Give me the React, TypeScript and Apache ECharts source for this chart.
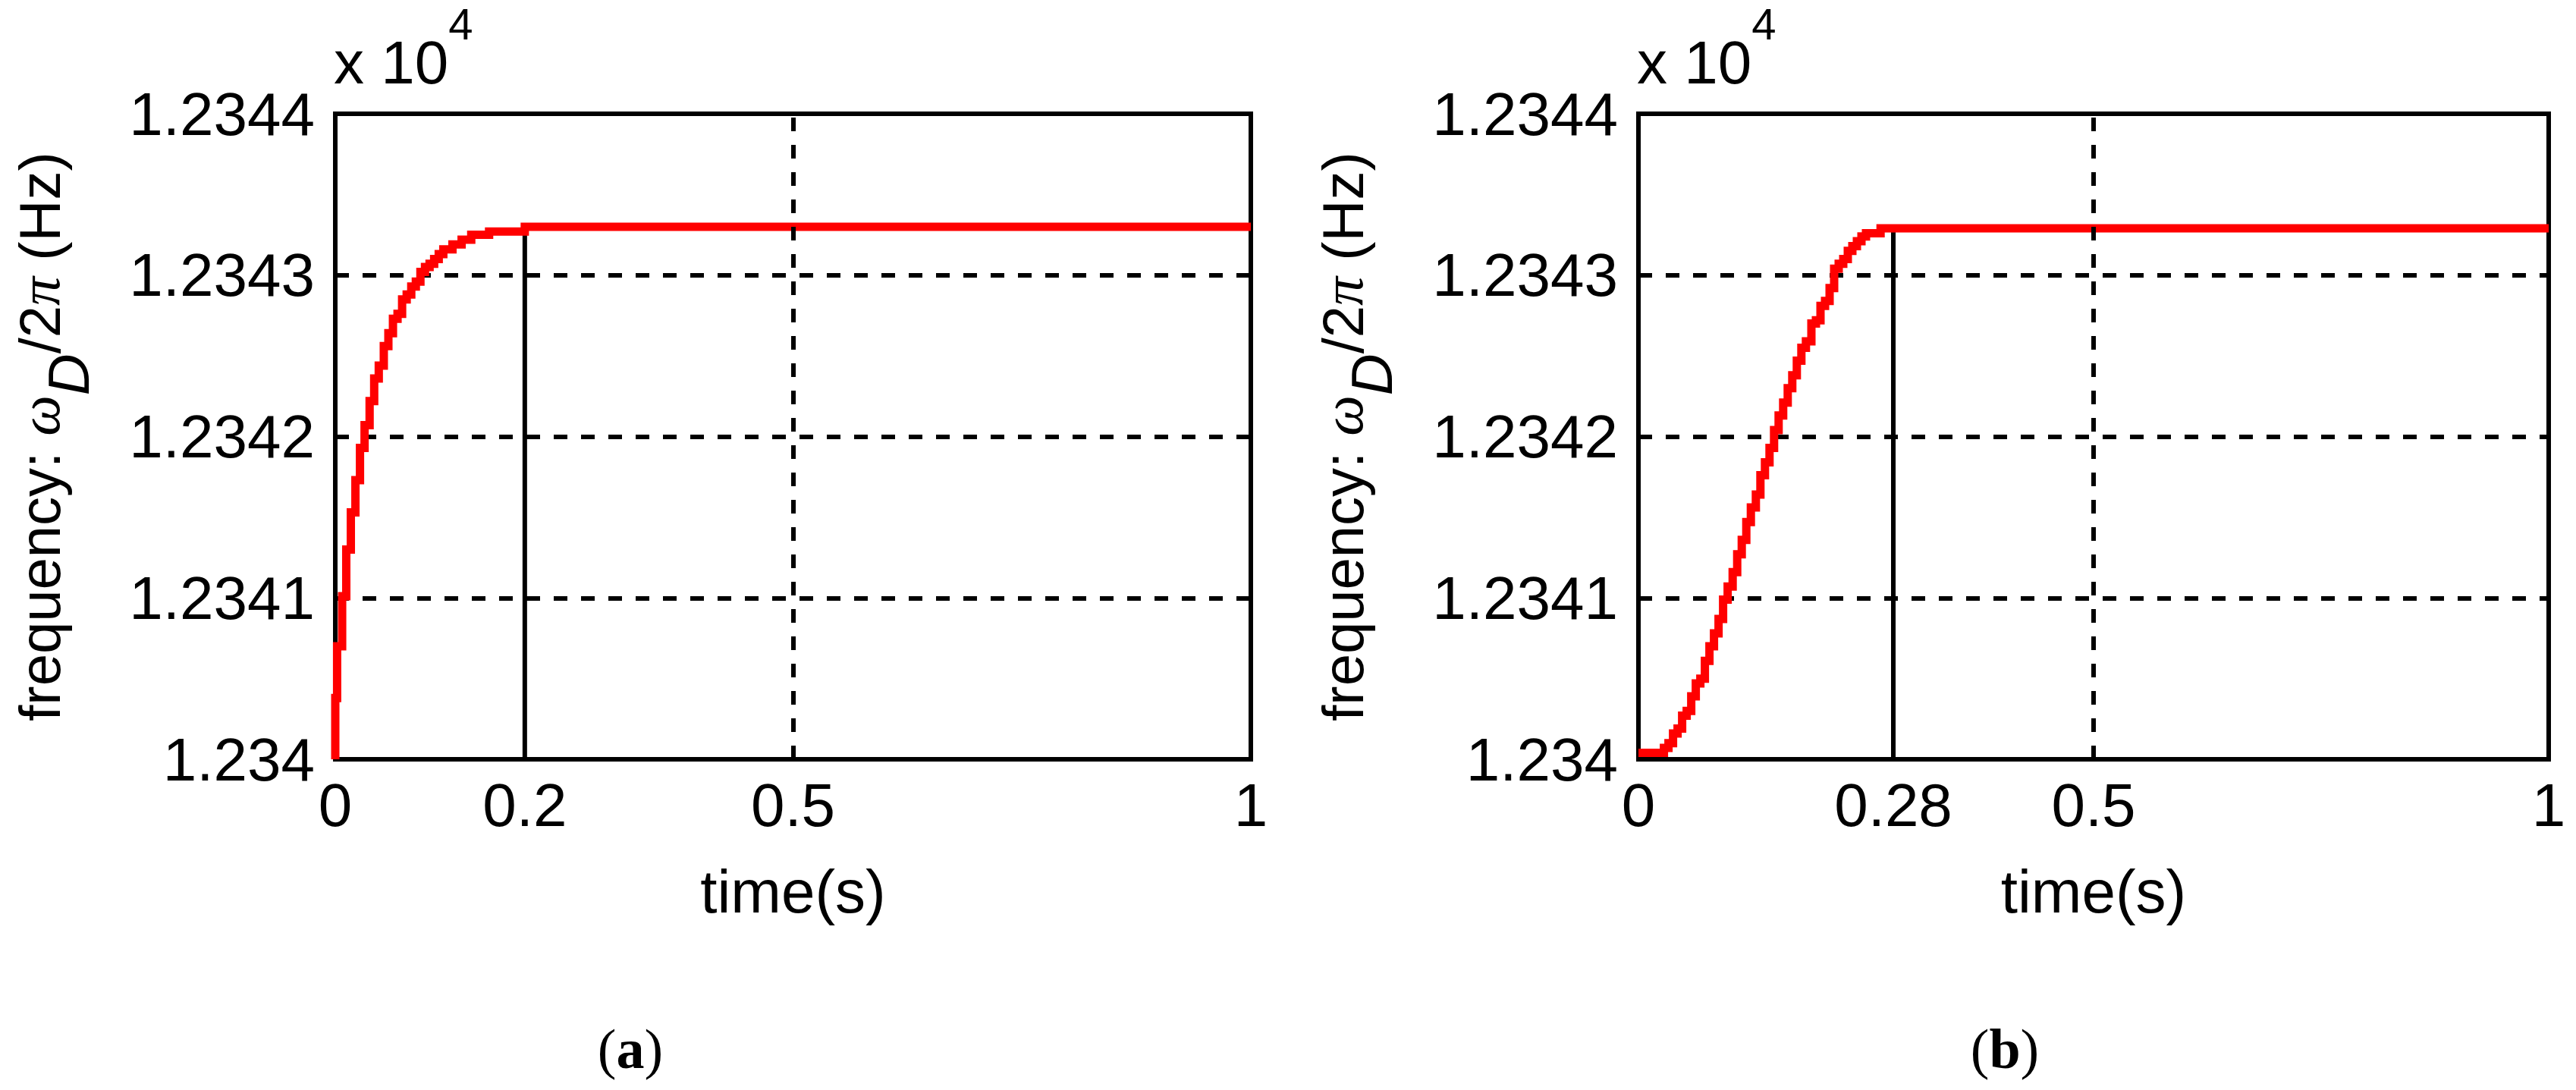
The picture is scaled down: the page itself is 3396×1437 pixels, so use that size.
import React, { useEffect, useRef } from "react";
import * as echarts from "echarts";

// ---------- data (frequency in Hz, time in s) ----------
const timeA = [0, 0, 0.002, 0.0075, 0.012, 0.017, 0.022, 0.027, 0.032, 0.0375, 0.0425, 0.0475, 0.053, 0.058, 0.063, 0.068, 0.073, 0.078, 0.083, 0.088, 0.093, 0.098, 0.103, 0.108, 0.113, 0.118, 0.128, 0.138, 0.1485, 0.168, 0.207, 1];
const freqA = [12340, 12340.38, 12340.7, 12341.01, 12341.3, 12341.53, 12341.73, 12341.93, 12342.07, 12342.22, 12342.36, 12342.44, 12342.56, 12342.64, 12342.73, 12342.76, 12342.85, 12342.88, 12342.93, 12342.96, 12343.02, 12343.05, 12343.07, 12343.1, 12343.13, 12343.16, 12343.19, 12343.22, 12343.25, 12343.27, 12343.3, 12343.3];

const timeB = [0, 0.028, 0.033, 0.038, 0.043, 0.048, 0.053, 0.058, 0.063, 0.068, 0.073, 0.078, 0.083, 0.088, 0.093, 0.098, 0.1035, 0.1085, 0.1135, 0.1185, 0.1235, 0.129, 0.134, 0.139, 0.144, 0.149, 0.154, 0.159, 0.164, 0.169, 0.174, 0.179, 0.184, 0.19, 0.195, 0.2, 0.205, 0.21, 0.215, 0.22, 0.225, 0.23, 0.235, 0.24, 0.245, 0.25, 0.266, 1];
const freqB = [12340.04, 12340.07, 12340.1, 12340.16, 12340.19, 12340.27, 12340.3, 12340.39, 12340.47, 12340.5, 12340.61, 12340.7, 12340.78, 12340.87, 12340.99, 12341.07, 12341.16, 12341.27, 12341.36, 12341.47, 12341.56, 12341.64, 12341.76, 12341.84, 12341.93, 12342.04, 12342.13, 12342.21, 12342.3, 12342.38, 12342.47, 12342.55, 12342.59, 12342.7, 12342.72, 12342.81, 12342.84, 12342.92, 12343.04, 12343.07, 12343.1, 12343.15, 12343.18, 12343.21, 12343.24, 12343.26, 12343.29, 12343.29];

// settling-time markers
const settleTimeA = 0.207;
const settleTimeB = 0.28;
const settleFreqA = 12343.3;
const settleFreqB = 12343.29;

// tick values and labels
const yTickValues = [12340, 12341, 12342, 12343, 12344];
const yTickLabels = ["1.234", "1.2341", "1.2342", "1.2343", "1.2344"];
const xTickValuesA = [0, 0.207, 0.5, 1];
const xTickLabelsA = ["0", "0.2", "0.5", "1"];
const xTickValuesB = [0, 0.28, 0.5, 1];
const xTickLabelsB = ["0", "0.28", "0.5", "1"];
const xGridValues = [0.5];

const captions = ["a", "b"];

const SANS = "Liberation Sans";
const SERIF = "Liberation Serif";
const FS = 80;
const NFS = 76;
const LW = 6;

function lookup(values: number[], labels: string[]) {
  return (v: number) => {
    let best = 0;
    for (let i = 1; i < values.length; i++) {
      if (Math.abs(values[i] - v) < Math.abs(values[best] - v)) best = i;
    }
    return labels[best];
  };
}

function pairs(t: number[], f: number[]) {
  return t.map((x, i) => [x, f[i]]);
}

const grids = [
  { left: 442, top: 150, width: 1207, height: 851 },
  { left: 2160, top: 150, width: 1200, height: 851 },
];

function makeX(idx: number, ticks: number[], labels: string[]) {
  return {
    gridIndex: idx,
    type: "value",
    min: 0,
    max: 1,
    axisLine: { show: true, onZero: false, lineStyle: { color: "#000", width: LW } },
    axisTick: { show: false },
    splitLine: { show: false },
    axisLabel: {
      customValues: ticks,
      formatter: lookup(ticks, labels),
      fontSize: FS,
      fontFamily: SANS,
      color: "#000",
      margin: 20,
    },
    name: "time(s)",
    nameLocation: "middle",
    nameGap: 134,
    nameTextStyle: { fontSize: FS, fontFamily: SANS, color: "#000" },
  };
}

function makeY(idx: number) {
  return {
    gridIndex: idx,
    type: "value",
    min: 12340,
    max: 12344,
    interval: 1,
    axisLine: { show: true, onZero: false, lineStyle: { color: "#000", width: LW } },
    axisTick: { show: false },
    splitLine: { show: true, lineStyle: { color: "#000", width: LW, type: [18, 18] } },
    axisLabel: {
      formatter: lookup(yTickValues, yTickLabels),
      fontSize: FS,
      fontFamily: SANS,
      color: "#000",
      margin: 27,
    },
    name: "{a|frequency: }{g|ω}{s|D}{a|/2}{g|π}{a| (Hz)}",
    nameLocation: "middle",
    nameGap: 352,
    nameRotate: 90,
    nameTextStyle: {
      color: "#000",
      fontSize: NFS,
      fontFamily: SANS,
      rich: {
        a: { fontSize: NFS, fontFamily: SANS, color: "#000", lineHeight: 76, verticalAlign: "top" },
        g: { fontSize: NFS, fontFamily: SERIF, fontStyle: "italic", color: "#000", lineHeight: 76, verticalAlign: "top" },
        s: { fontSize: NFS, fontFamily: SANS, fontStyle: "italic", color: "#000", lineHeight: 76, padding: [38, 0, 0, 0], verticalAlign: "top" },
      },
    },
  };
}

function settleSeries(idx: number, t: number, f: number) {
  return {
    type: "line",
    xAxisIndex: idx,
    yAxisIndex: idx,
    data: [[t, 12340], [t, f]],
    showSymbol: false,
    silent: true,
    z: 2,
    lineStyle: { color: "#000", width: LW },
    markLine: {
      silent: true,
      symbol: ["none", "none"],
      label: { show: false },
      lineStyle: { color: "#000", width: LW, type: [18, 18] },
      data: xGridValues.map((v) => ({ xAxis: v })),
    },
  };
}

function curveSeries(idx: number, t: number[], f: number[]) {
  return {
    type: "line",
    xAxisIndex: idx,
    yAxisIndex: idx,
    data: pairs(t, f),
    step: "end",
    showSymbol: false,
    silent: true,
    z: 3,
    lineStyle: { color: "#ff0000", width: 11, join: "miter" },
  };
}

function exponent(x: number) {
  return {
    type: "text",
    x,
    y: 2,
    silent: true,
    style: {
      text: "{m|x 10}{e|4}",
      fill: "#000",
      rich: {
        m: { fontSize: FS, fontFamily: SANS, fill: "#000", lineHeight: 80, padding: [40, 0, 0, 0], verticalAlign: "top" },
        e: { fontSize: 58, fontFamily: SANS, fill: "#000", lineHeight: 58, verticalAlign: "top" },
      },
    },
  };
}

function caption(x: number, letter: string) {
  return {
    type: "text",
    x,
    y: 1383,
    silent: true,
    style: {
      text: "{p|(}{b|" + letter + "}{p|)}",
      align: "center",
      verticalAlign: "middle",
      fill: "#000",
      rich: {
        p: { fontSize: 74, fontFamily: SERIF, fill: "#000" },
        b: { fontSize: 74, fontFamily: SERIF, fontWeight: "bold", fill: "#000" },
      },
    },
  };
}

export default function App() {
  const ref = useRef<HTMLDivElement>(null);
  useEffect(() => {
    if (!ref.current) return;
    const chart = echarts.init(ref.current, null, { renderer: "svg" });
    const option: any = {
      animation: false,
      backgroundColor: "#ffffff",
      grid: grids.map((g) => ({
        ...g,
        show: true,
        borderColor: "#000",
        borderWidth: LW,
        backgroundColor: "transparent",
        containLabel: false,
        outerBoundsMode: "none",
      })),
      xAxis: [makeX(0, xTickValuesA, xTickLabelsA), makeX(1, xTickValuesB, xTickLabelsB)],
      yAxis: [makeY(0), makeY(1)],
      series: [
        settleSeries(0, settleTimeA, settleFreqA),
        curveSeries(0, timeA, freqA),
        settleSeries(1, settleTimeB, settleFreqB),
        curveSeries(1, timeB, freqB),
      ],
      graphic: [
        exponent(440),
        exponent(2158),
        caption(831, captions[0]),
        caption(2643, captions[1]),
      ],
    };
    chart.setOption(option);
    return () => chart.dispose();
  }, []);
  return (
    <div
      ref={ref}
      style={{ position: "fixed", left: 0, top: 0, width: "3396px", height: "1437px", background: "#fff" }}
    />
  );
}
